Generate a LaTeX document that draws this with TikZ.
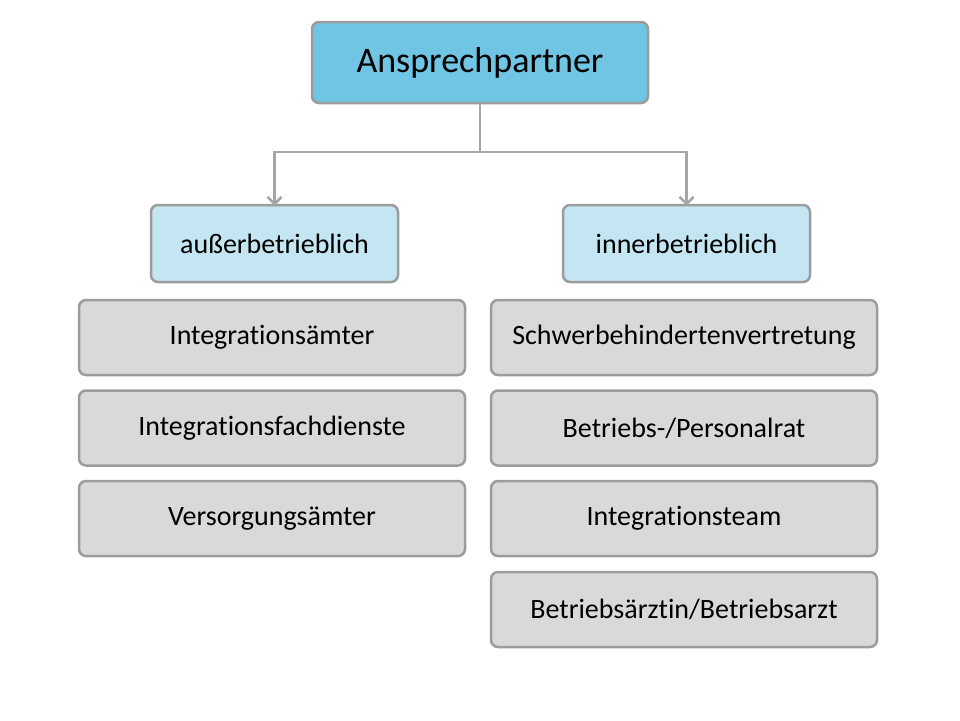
\documentclass[tikz,border=0pt]{standalone}
\usepackage{fontspec}
\setmainfont[RawFeature={-liga}]{Carlito}
\usetikzlibrary{arrows.meta}
\definecolor{topblue}{HTML}{70C5E4}
\definecolor{lightblue}{HTML}{C4E6F2}
\definecolor{boxgray}{HTML}{D9D9D9}
\definecolor{bordergray}{HTML}{9C9C9C}
\definecolor{linegray}{HTML}{A6A6A6}
\tikzset{
  base/.style={draw=bordergray, line width=2.5pt, rounded corners=7pt, inner sep=0pt, text=black},
  topbox/.style={base, fill=topblue, minimum width=336pt, minimum height=81pt, font=\fontsize{36}{40}\selectfont},
  catbox/.style={base, fill=lightblue, minimum width=247pt, minimum height=77pt, font=\fontsize{28}{32}\selectfont},
  itembox/.style={base, fill=boxgray, minimum width=386pt, minimum height=75pt, font=\fontsize{28}{32}\selectfont},
  conn/.style={draw=linegray, line width=2.5pt},
  arr/.style={conn, -{Straight Barb[length=7pt, width=14pt, line width=2.5pt]}}
}
\begin{document}
\begin{tikzpicture}[x=1pt, y=-1pt]
\useasboundingbox (0,0) rectangle (960,720);
\node[topbox] (top) at (480,62.5) {Ansprechpartner};
\node[catbox] (aus) at (274.5,243.5) {außerbetrieblich};
\node[catbox] (inn) at (686.5,243.5) {innerbetrieblich};
\node[itembox] (l1) at (272,337.5) {Integrationsämter};
\node[itembox] (l2) at (272,428) {Integrationsfachdienste};
\node[itembox] (l3) at (272,518.5) {Versorgungsämter};
\node[itembox] (r1) at (684,337.5) {Schwerbehindertenvertretung};
\node[itembox] (r2) at (684,428) {Betriebs-/Personalrat};
\node[itembox] (r3) at (684,518.5) {Integrationsteam};
\node[itembox] (r4) at (684,609.5) {Betriebsärztin/Betriebsarzt};
\coordinate (mid) at (480,152);
\draw[conn] (top.south) -- (mid);
\draw[arr] (mid) -| ([yshift=-2pt]aus.north);
\draw[arr] (mid) -| ([yshift=-2pt]inn.north);
\end{tikzpicture}
\end{document}
